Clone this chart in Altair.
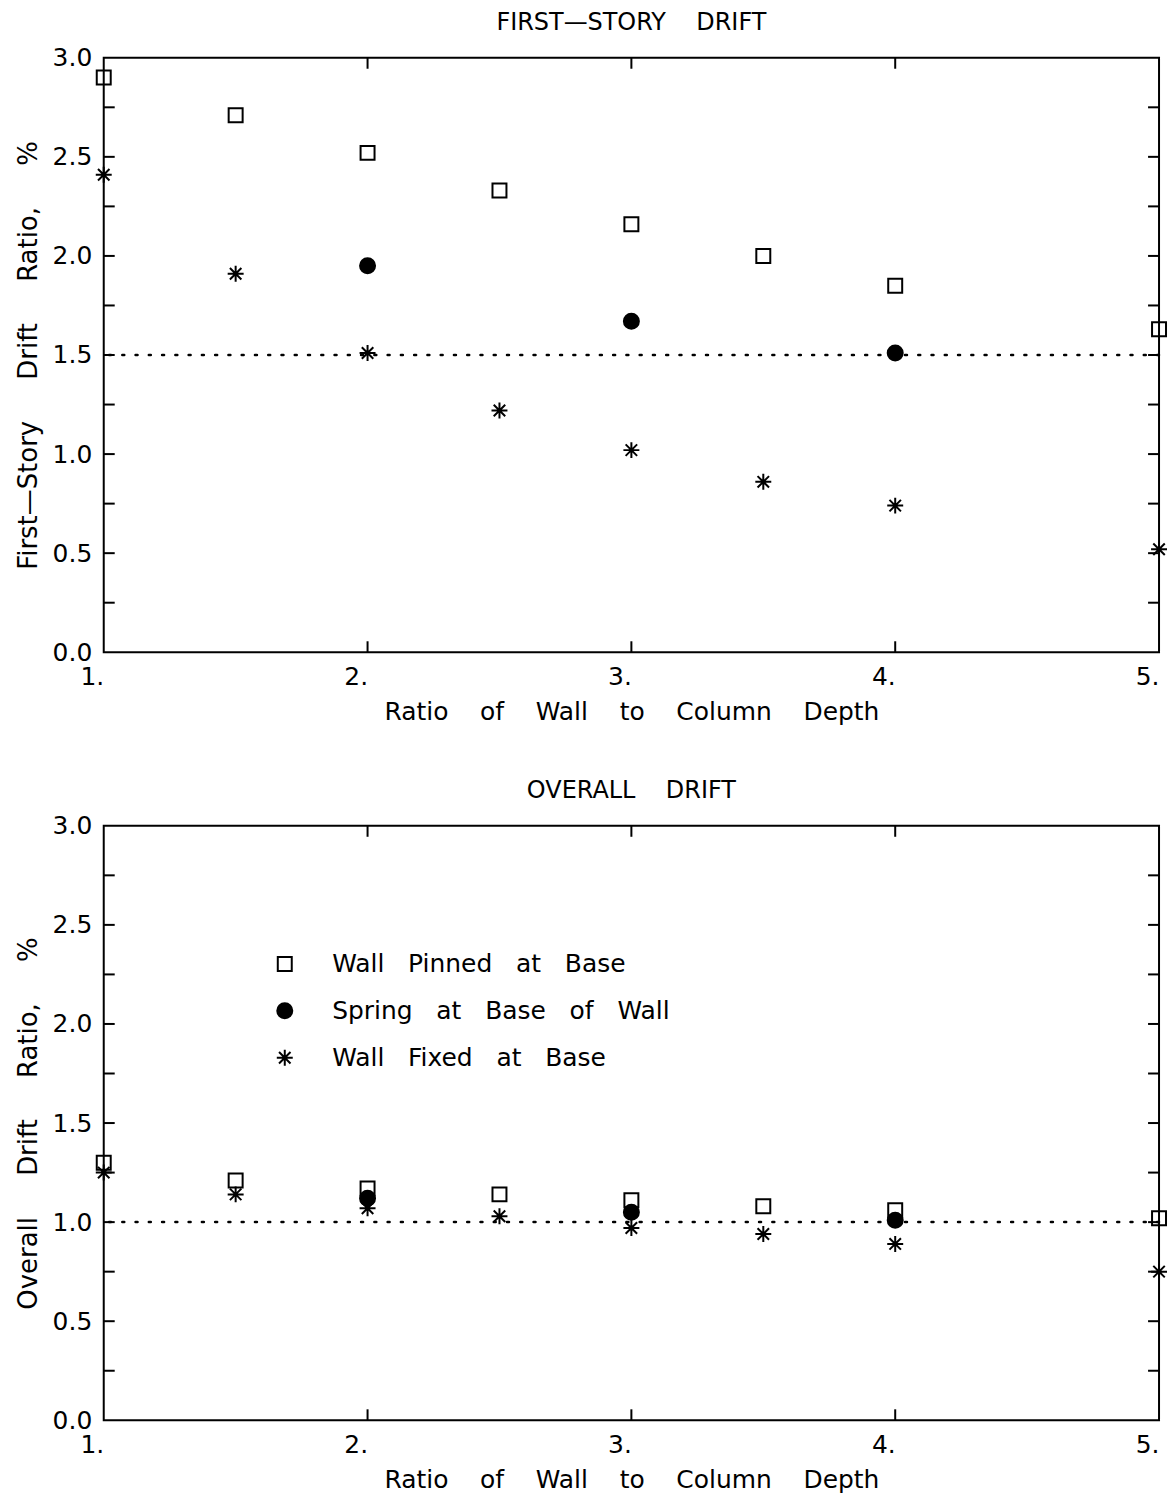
import altair as alt
import pandas as pd

# ---------------- data ----------------
ratio = [1.0, 1.5, 2.0, 2.5, 3.0, 3.5, 4.0, 5.0]
spring_ratio = [2.0, 3.0, 4.0]

first_pinned = [2.90, 2.71, 2.52, 2.33, 2.16, 2.00, 1.85, 1.63]
first_spring = [1.95, 1.67, 1.51]
first_fixed = [2.41, 1.91, 1.51, 1.22, 1.02, 0.86, 0.74, 0.52]

overall_pinned = [1.30, 1.21, 1.17, 1.14, 1.11, 1.08, 1.06, 1.02]
overall_spring = [1.12, 1.05, 1.01]
overall_fixed = [1.25, 1.14, 1.07, 1.03, 0.97, 0.94, 0.89, 0.75]

series_names = ["Wall Pinned at Base", "Spring at Base of Wall", "Wall Fixed at Base"]
limit_first = [1.5]
limit_overall = [1.0]

x_label_values = [1, 2, 3, 4, 5]
x_minor_ticks = [2, 3, 4]
y_label_values = [0.0, 0.5, 1.0, 1.5, 2.0, 2.5, 3.0]
y_minor_ticks = [0.25, 0.5, 0.75, 1.0, 1.25, 1.5, 1.75, 2.0, 2.25, 2.5, 2.75]

# ---------------- styling ----------------
FONT = "DejaVu Sans"
W, H = 1058, 596
TICK = 11
ASTERISK = "M0,-1L0,1M-1,0L1,0M-0.72,-0.72L0.72,0.72M-0.72,0.72L0.72,-0.72"
SP = "\u00a0\u00a0\u00a0 "
SPY = "\u00a0\u00a0\u00a0\u00a0 "


def build_df(p, s, f):
    rows = []
    for x, v in zip(ratio, p):
        rows.append({"ratio": x, "value": v, "series": series_names[0]})
    for x, v in zip(spring_ratio, s):
        rows.append({"ratio": x, "value": v, "series": series_names[1]})
    for x, v in zip(ratio, f):
        rows.append({"ratio": x, "value": v, "series": series_names[2]})
    return pd.DataFrame(rows)


legend = alt.Legend(
    title=None, orient="none", legendX=169, legendY=896,
    labelFont=FONT, labelFontSize=25, labelColor="black",
    labelExpr="replace(datum.label, regexp(' ', 'g'), '\u00a0\u00a0 ')",
    labelOffset=35, rowPadding=21, symbolStrokeWidth=2,
    padding=0, labelLimit=600,
)


def panel(df, limit, title, ytitle):
    xscale = alt.Scale(domain=[1, 5], nice=False, zero=False)
    yscale = alt.Scale(domain=[0, 3], nice=False, zero=False)

    xaxis = alt.Axis(
        values=x_label_values, format="d", labelExpr="datum.label + '.'",
        tickSize=0, domain=False, grid=False, labelAlign="right",
        labelPadding=12, labelFontSize=25, labelFont=FONT, labelColor="black",
        title="Ratio" + SP + "of" + SP + "Wall" + SP + "to" + SP + "Column" + SP + "Depth",
        titleFont=FONT, titleFontSize=25, titleFontWeight="normal",
        titleColor="black", titlePadding=10,
    )
    yaxis = alt.Axis(
        values=y_label_values, format=".1f", tickSize=0, domain=False, grid=False,
        labelPadding=12, labelFontSize=25, labelFont=FONT, labelColor="black",
        title=ytitle, titleFont=FONT, titleFontSize=26, titleFontWeight="normal",
        titleColor="black", titlePadding=11,
    )

    shape = alt.Shape("series:N", scale=alt.Scale(domain=series_names,
                      range=["square", "circle", ASTERISK]), legend=legend)
    fill = alt.Fill("series:N", scale=alt.Scale(domain=series_names,
                    range=["transparent", "black", "transparent"]), legend=legend)
    stroke = alt.Stroke("series:N", scale=alt.Scale(domain=series_names,
                        range=["black", "black", "black"]), legend=legend)
    size = alt.Size("series:N", scale=alt.Scale(domain=series_names,
                    range=[196, 256, 361]), legend=legend)

    points = alt.Chart(df).mark_point(strokeWidth=2, opacity=1, clip=False).encode(
        x=alt.X("ratio:Q", scale=xscale, axis=xaxis),
        y=alt.Y("value:Q", scale=yscale, axis=yaxis),
        shape=shape, fill=fill, stroke=stroke, size=size,
    )

    limit_df = pd.DataFrame({"v": limit})
    dotted = alt.Chart(limit_df).mark_rule(
        color="black", strokeWidth=2.5, strokeDash=[2, 11.3], strokeCap="round"
    ).encode(y=alt.Y("v:Q", scale=yscale))

    yt = pd.DataFrame({"v": y_minor_ticks})
    xt = pd.DataFrame({"v": x_minor_ticks})
    left_ticks = alt.Chart(yt).mark_rule(color="black", strokeWidth=2).encode(
        y=alt.Y("v:Q", scale=yscale), x=alt.value(0), x2=alt.value(TICK))
    right_ticks = alt.Chart(yt).mark_rule(color="black", strokeWidth=2).encode(
        y=alt.Y("v:Q", scale=yscale), x=alt.value(W - TICK), x2=alt.value(W))
    bottom_ticks = alt.Chart(xt).mark_rule(color="black", strokeWidth=2).encode(
        x=alt.X("v:Q", scale=xscale), y=alt.value(H - TICK), y2=alt.value(H))
    top_ticks = alt.Chart(xt).mark_rule(color="black", strokeWidth=2).encode(
        x=alt.X("v:Q", scale=xscale), y=alt.value(0), y2=alt.value(TICK))

    layer = alt.layer(
        dotted, left_ticks, right_ticks, bottom_ticks, top_ticks, points
    ).properties(
        width=W, height=H,
        title=alt.TitleParams(text=title, font=FONT, fontSize=24,
                              fontWeight="normal", color="black",
                              anchor="middle", offset=11),
    )
    return layer


top = panel(build_df(first_pinned, first_spring, first_fixed), limit_first,
            "FIRST\u2014STORY" + SP + "DRIFT",
            "First\u2014Story" + SPY + "Drift" + SPY + "Ratio," + SPY + "%")
bottom = panel(build_df(overall_pinned, overall_spring, overall_fixed), limit_overall,
               "OVERALL" + SP + "DRIFT",
               "Overall" + SPY + "Drift" + SPY + "Ratio," + SPY + "%")

chart = alt.vconcat(top, bottom, spacing=53).configure(
    padding={"left": 14, "top": 8, "right": 0, "bottom": 2},
    background="white",
    view=alt.ViewConfig(stroke="black", strokeWidth=2),
)

chart.save("out.html", embed_options={"renderer": "svg", "actions": False})
